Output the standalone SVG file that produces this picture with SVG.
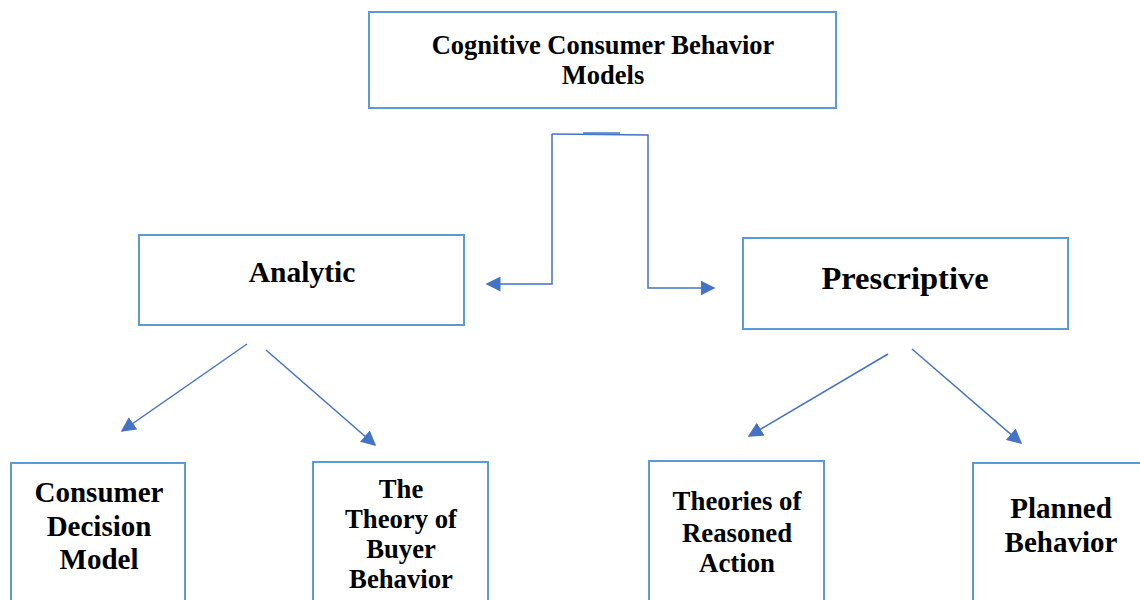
<svg xmlns="http://www.w3.org/2000/svg" width="1140" height="600" viewBox="0 0 1140 600">
<style>
.box{fill:#fff;stroke:#5b9bd5;stroke-width:2}
.t{font-family:"Liberation Serif","Times New Roman",serif;font-weight:bold;fill:#000;text-anchor:middle}
.c{fill:none;stroke:#4472c4;stroke-width:1.5}
</style>
<defs>
<marker id="ah" viewBox="0 0 10 10" refX="9" refY="5" markerWidth="15" markerHeight="15" markerUnits="userSpaceOnUse" orient="auto"><path d="M0,0 L10,5 L0,10 z" fill="#4472c4"/></marker>
</defs>
<rect width="1140" height="600" fill="#fff"/>
<g id="connectors">
<path class="c" d="M552,134 L552,284 L487,284" marker-end="url(#ah)"/>
<path class="c" d="M552,134 L648,135 L648,288 L714,288" marker-end="url(#ah)"/>
<line x1="583" y1="133" x2="620" y2="133" stroke="#4472c4" stroke-width="1.5"/>
<line class="c" x1="247" y1="344" x2="122" y2="431" marker-end="url(#ah)"/>
<line class="c" x1="266" y1="350" x2="375" y2="445" marker-end="url(#ah)"/>
<line class="c" x1="888" y1="354" x2="749" y2="436" marker-end="url(#ah)"/>
<line class="c" x1="912" y1="349" x2="1021" y2="443" marker-end="url(#ah)"/>
</g>
<g id="root">
<rect class="box" x="369" y="12" width="467" height="96"/>
<text class="t" x="603" y="54" font-size="26.5">Cognitive Consumer Behavior</text>
<text class="t" x="603" y="84" font-size="26.5">Models</text>
</g>
<g id="analytic">
<rect class="box" x="139" y="235" width="325" height="90"/>
<text class="t" x="302" y="282" font-size="29.5">Analytic</text>
</g>
<g id="prescriptive">
<rect class="box" x="743" y="238" width="325" height="91"/>
<text class="t" x="905" y="289" font-size="32.5">Prescriptive</text>
</g>
<g id="consumer-decision">
<rect class="box" x="11" y="463" width="174" height="150"/>
<text class="t" x="99" y="502" font-size="29">Consumer</text>
<text class="t" x="99" y="536" font-size="29">Decision</text>
<text class="t" x="99" y="569" font-size="29">Model</text>
</g>
<g id="buyer-behavior">
<rect class="box" x="313" y="462" width="175" height="150"/>
<text class="t" x="401" y="498" font-size="26.7">The</text>
<text class="t" x="401" y="528" font-size="26.7">Theory of</text>
<text class="t" x="401" y="558" font-size="26.7">Buyer</text>
<text class="t" x="401" y="588" font-size="26.7">Behavior</text>
</g>
<g id="reasoned-action">
<rect class="box" x="649" y="461" width="175" height="150"/>
<text class="t" x="737" y="510" font-size="26.8">Theories of</text>
<text class="t" x="737" y="542" font-size="26.8">Reasoned</text>
<text class="t" x="737" y="572" font-size="26.8">Action</text>
</g>
<g id="planned-behavior">
<rect class="box" x="973" y="463" width="180" height="150"/>
<text class="t" x="1061" y="518" font-size="29">Planned</text>
<text class="t" x="1061" y="552" font-size="29">Behavior</text>
</g>
</svg>
